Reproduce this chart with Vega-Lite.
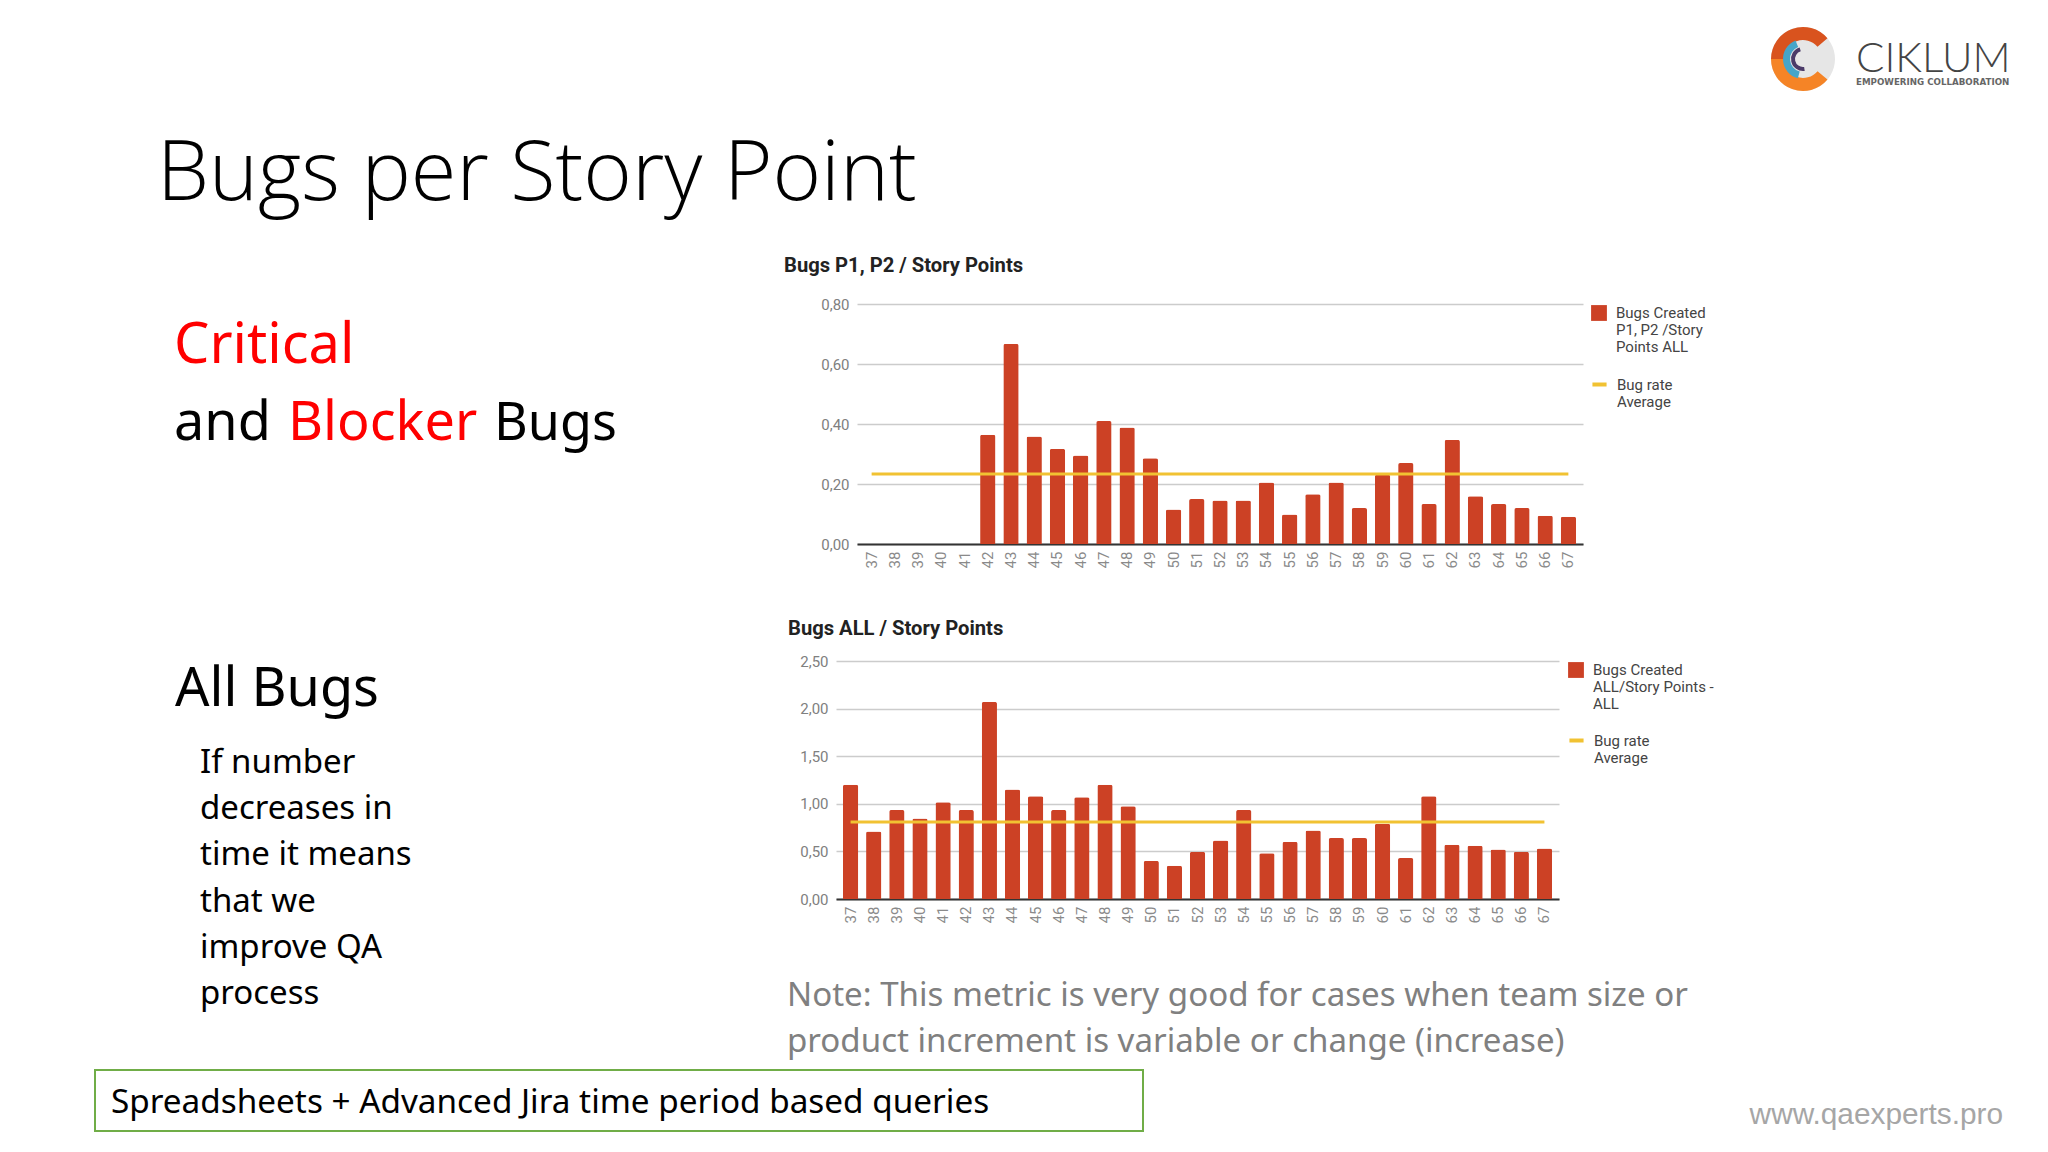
{
  "$schema": "https://vega.github.io/schema/vega-lite/v6.json",
  "padding": 0,
  "background": "#ffffff",
  "spacing": 0,
  "bounds": "flush",
  "resolve": {"scale": {"color": "independent", "stroke": "independent"}, "legend": {"color": "independent", "stroke": "independent"}},
  "config": {
    "view": {"stroke": null},
    "font": "Roboto",
    "axisX": {"title": null, "labelAngle": -90, "labelColor": "#8a8a8a", "labelFontSize": 15, "labelPadding": 7, "ticks": false, "domainColor": "#333333", "domainWidth": 2, "grid": false},
    "axisY": {"title": null, "labelColor": "#808080", "labelFontSize": 15, "labelPadding": 8, "ticks": false, "domain": false, "gridColor": "#cccccc", "gridWidth": 1.5, "labelExpr": "replace(format(datum.value, '.2f'), '.', ',')"},
    "legend": {"title": null, "labelFont": "Roboto", "labelFontSize": 15, "labelColor": "#444444", "labelOffset": 8, "labelLimit": 300, "symbolOpacity": 1}
  },
  "datasets": {
    "p1p2": [
      {"week": "37", "rate": 0, "average": 0.233},
      {"week": "38", "rate": 0, "average": 0.233},
      {"week": "39", "rate": 0, "average": 0.233},
      {"week": "40", "rate": 0, "average": 0.233},
      {"week": "41", "rate": 0, "average": 0.233},
      {"week": "42", "rate": 0.364, "average": 0.233},
      {"week": "43", "rate": 0.667, "average": 0.233},
      {"week": "44", "rate": 0.358, "average": 0.233},
      {"week": "45", "rate": 0.317, "average": 0.233},
      {"week": "46", "rate": 0.295, "average": 0.233},
      {"week": "47", "rate": 0.41, "average": 0.233},
      {"week": "48", "rate": 0.388, "average": 0.233},
      {"week": "49", "rate": 0.286, "average": 0.233},
      {"week": "50", "rate": 0.115, "average": 0.233},
      {"week": "51", "rate": 0.15, "average": 0.233},
      {"week": "52", "rate": 0.145, "average": 0.233},
      {"week": "53", "rate": 0.145, "average": 0.233},
      {"week": "54", "rate": 0.205, "average": 0.233},
      {"week": "55", "rate": 0.098, "average": 0.233},
      {"week": "56", "rate": 0.166, "average": 0.233},
      {"week": "57", "rate": 0.205, "average": 0.233},
      {"week": "58", "rate": 0.12, "average": 0.233},
      {"week": "59", "rate": 0.231, "average": 0.233},
      {"week": "60", "rate": 0.27, "average": 0.233},
      {"week": "61", "rate": 0.133, "average": 0.233},
      {"week": "62", "rate": 0.347, "average": 0.233},
      {"week": "63", "rate": 0.159, "average": 0.233},
      {"week": "64", "rate": 0.133, "average": 0.233},
      {"week": "65", "rate": 0.12, "average": 0.233},
      {"week": "66", "rate": 0.094, "average": 0.233},
      {"week": "67", "rate": 0.091, "average": 0.233}
    ],
    "all": [
      {"week": "37", "rate": 1.2, "average": 0.81},
      {"week": "38", "rate": 0.71, "average": 0.81},
      {"week": "39", "rate": 0.935, "average": 0.81},
      {"week": "40", "rate": 0.845, "average": 0.81},
      {"week": "41", "rate": 1.015, "average": 0.81},
      {"week": "42", "rate": 0.935, "average": 0.81},
      {"week": "43", "rate": 2.07, "average": 0.81},
      {"week": "44", "rate": 1.15, "average": 0.81},
      {"week": "45", "rate": 1.08, "average": 0.81},
      {"week": "46", "rate": 0.935, "average": 0.81},
      {"week": "47", "rate": 1.07, "average": 0.81},
      {"week": "48", "rate": 1.2, "average": 0.81},
      {"week": "49", "rate": 0.975, "average": 0.81},
      {"week": "50", "rate": 0.4, "average": 0.81},
      {"week": "51", "rate": 0.35, "average": 0.81},
      {"week": "52", "rate": 0.495, "average": 0.81},
      {"week": "53", "rate": 0.615, "average": 0.81},
      {"week": "54", "rate": 0.935, "average": 0.81},
      {"week": "55", "rate": 0.48, "average": 0.81},
      {"week": "56", "rate": 0.6, "average": 0.81},
      {"week": "57", "rate": 0.72, "average": 0.81},
      {"week": "58", "rate": 0.64, "average": 0.81},
      {"week": "59", "rate": 0.64, "average": 0.81},
      {"week": "60", "rate": 0.79, "average": 0.81},
      {"week": "61", "rate": 0.43, "average": 0.81},
      {"week": "62", "rate": 1.08, "average": 0.81},
      {"week": "63", "rate": 0.57, "average": 0.81},
      {"week": "64", "rate": 0.56, "average": 0.81},
      {"week": "65", "rate": 0.52, "average": 0.81},
      {"week": "66", "rate": 0.495, "average": 0.81},
      {"week": "67", "rate": 0.53, "average": 0.81}
    ]
  },
  "vconcat": [
    {
      "spacing": 0,
      "bounds": "flush",
      "hconcat": [
        {"width": 1768, "height": 1, "data": {"values": []}, "mark": "point"},
        {
          "width": 70,
          "height": 118,
          "data": {"values": [{"name": "CIKLUM", "tagline": "EMPOWERING COLLABORATION"}]},
          "layer": [
            {"mark": {"type": "arc", "outerRadius": 32, "innerRadius": 0, "theta": 0, "theta2": 6.283, "fill": "#e6e6e6"}},
            {"mark": {"type": "arc", "outerRadius": 32, "innerRadius": 19, "theta": -1.57, "theta2": 0.87, "fill": "#d9531e"}},
            {"mark": {"type": "arc", "outerRadius": 32, "innerRadius": 19, "theta": 2.27, "theta2": 4.71, "fill": "#f58426"}},
            {"mark": {"type": "arc", "outerRadius": 20, "innerRadius": 13, "theta": 3.4, "theta2": 5.9, "fill": "#46a5c9"}},
            {"mark": {"type": "arc", "outerRadius": 12, "innerRadius": 8, "theta": 3.0, "theta2": 6.0, "fill": "#4b3b68"}},
            {
              "mark": {"type": "text", "font": "Lato", "fontWeight": 300, "fontSize": 42, "align": "left", "baseline": "middle", "dx": 53, "dy": 0, "color": "#444444"},
              "encoding": {"text": {"field": "name"}}
            },
            {
              "mark": {"type": "text", "font": "DejaVu Sans", "fontWeight": 700, "fontSize": 8.7, "align": "left", "baseline": "middle", "dx": 53, "dy": 23, "color": "#666666"},
              "encoding": {"text": {"field": "tagline"}}
            }
          ]
        }
      ]
    },
    {"width": 1, "height": 135, "data": {"values": []}, "mark": "point"},
    {
      "spacing": 0,
      "bounds": "flush",
      "hconcat": [
        {"width": 155.5, "height": 1, "data": {"values": []}, "mark": "point"},
        {
          "width": 2,
          "height": 80,
          "data": {"values": [{"text": "Bugs per Story Point"}]},
          "mark": {"type": "text", "font": "Open Sans", "fontWeight": 300, "fontSize": 83, "align": "left", "baseline": "middle", "color": "#000000"},
          "encoding": {"text": {"field": "text"}}
        }
      ]
    },
    {"width": 1, "height": 168.2, "data": {"values": []}, "mark": "point"},
    {
      "spacing": 0,
      "bounds": "flush",
      "resolve": {"scale": {"color": "independent", "stroke": "independent"}, "legend": {"color": "independent", "stroke": "independent"}},
      "hconcat": [
        {"width": 857, "height": 1, "data": {"values": []}, "mark": "point"},
        {
          "width": 726,
          "height": 240,
          "title": {"text": "Bugs P1, P2 / Story Points", "anchor": "start", "frame": "group", "dx": -73, "offset": 21, "font": "Roboto", "fontSize": 20.2, "fontWeight": 700, "color": "#222222"},
          "data": {"name": "p1p2"},
          "encoding": {
            "x": {"field": "week", "type": "ordinal", "scale": {"paddingInner": 0.34, "paddingOuter": 0.3}}
          },
          "layer": [
            {
              "mark": {"type": "bar", "cornerRadiusEnd": 2},
              "encoding": {
                "y": {"field": "rate", "type": "quantitative", "scale": {"domain": [0, 0.8], "nice": false}, "axis": {"values": [0, 0.2, 0.4, 0.6, 0.8]}},
                "color": {"datum": "Bugs Created\nP1, P2 /Story\nPoints ALL", "scale": {"range": ["#cc4125"]}, "legend": {"labelExpr": "split(datum.label, '\\n')", "symbolType": "square", "symbolSize": 250, "orient": "right", "offset": 7}}
              }
            },
            {
              "mark": {"type": "line", "strokeWidth": 3},
              "encoding": {
                "y": {"field": "average", "type": "quantitative"},
                "stroke": {"datum": "Bug rate\nAverage", "scale": {"range": ["#f1c232"]}, "legend": {"labelExpr": "split(datum.label, '\\n')", "symbolSize": 200, "symbolStrokeWidth": 4, "orient": "none", "legendX": 733, "legendY": 71}}
              }
            }
          ]
        }
      ]
    },
    {"width": 1, "height": 2.8, "data": {"values": []}, "mark": "point"},
    {
      "spacing": 0,
      "bounds": "flush",
      "hconcat": [
        {"width": 172.5, "height": 1, "data": {"values": []}, "mark": "point"},
        {
          "width": 2,
          "height": 156,
          "encoding": {
            "y": {"field": "line", "type": "nominal", "axis": null, "scale": {"domain": ["first", "second"], "paddingInner": 0, "paddingOuter": 0}},
            "text": {"field": "text"}
          },
          "layer": [
            {
              "data": {"values": [{"line": "first", "text": "Critical"}]},
              "mark": {"type": "text", "font": "Noto Sans", "fontSize": 56, "align": "left", "baseline": "middle", "color": "#ff0000"}
            },
            {
              "data": {"values": [{"line": "second", "text": "and"}]},
              "mark": {"type": "text", "font": "Noto Sans", "fontSize": 54, "align": "left", "baseline": "middle", "color": "#000000"}
            },
            {
              "data": {"values": [{"line": "second", "text": "Blocker"}]},
              "mark": {"type": "text", "font": "Noto Sans", "fontSize": 54, "align": "left", "baseline": "middle", "dx": 114, "color": "#ff0000"}
            },
            {
              "data": {"values": [{"line": "second", "text": "Bugs"}]},
              "mark": {"type": "text", "font": "Noto Sans", "fontSize": 52, "align": "left", "baseline": "middle", "dx": 320, "color": "#000000"}
            }
          ]
        }
      ]
    },
    {"width": 1, "height": 331.7, "data": {"values": []}, "mark": "point"},
    {
      "spacing": 0,
      "bounds": "flush",
      "hconcat": [
        {"width": 173.7, "height": 1, "data": {"values": []}, "mark": "point"},
        {
          "width": 2,
          "height": 102,
          "data": {"values": [{"text": "All Bugs"}]},
          "mark": {"type": "text", "font": "Noto Sans", "fontSize": 54, "align": "left", "baseline": "middle", "color": "#000000"},
          "encoding": {"text": {"field": "text"}}
        }
      ]
    },
    {"width": 1, "height": 21.8, "data": {"values": []}, "mark": "point"},
    {
      "spacing": 0,
      "bounds": "flush",
      "resolve": {"scale": {"color": "independent", "stroke": "independent"}, "legend": {"color": "independent", "stroke": "independent"}},
      "hconcat": [
        {"width": 836, "height": 1, "data": {"values": []}, "mark": "point"},
        {
          "width": 723,
          "height": 238,
          "title": {"text": "Bugs ALL / Story Points", "anchor": "start", "frame": "group", "dx": -48, "offset": 15, "font": "Roboto", "fontSize": 20.2, "fontWeight": 700, "color": "#222222"},
          "data": {"name": "all"},
          "encoding": {
            "x": {"field": "week", "type": "ordinal", "scale": {"paddingInner": 0.34, "paddingOuter": 0.3}}
          },
          "layer": [
            {
              "mark": {"type": "bar", "cornerRadiusEnd": 2},
              "encoding": {
                "y": {"field": "rate", "type": "quantitative", "scale": {"domain": [0, 2.5], "nice": false}, "axis": {"values": [0, 0.5, 1, 1.5, 2, 2.5]}},
                "color": {"datum": "Bugs Created\nALL/Story Points -\nALL", "scale": {"range": ["#cc4125"]}, "legend": {"labelExpr": "split(datum.label, '\\n')", "symbolType": "square", "symbolSize": 250, "orient": "right", "offset": 8}}
              }
            },
            {
              "mark": {"type": "line", "strokeWidth": 3},
              "encoding": {
                "y": {"field": "average", "type": "quantitative"},
                "stroke": {"datum": "Bug rate\nAverage", "scale": {"range": ["#f1c232"]}, "legend": {"labelExpr": "split(datum.label, '\\n')", "symbolSize": 200, "symbolStrokeWidth": 4, "orient": "none", "legendX": 731, "legendY": 70}}
              }
            }
          ]
        }
      ]
    },
    {"width": 1, "height": 78.2, "data": {"values": []}, "mark": "point"},
    {
      "spacing": 0,
      "bounds": "flush",
      "hconcat": [
        {"width": 198.7, "height": 1, "data": {"values": []}, "mark": "point"},
        {
          "width": 2,
          "height": 277,
          "data": {"values": [{"text": "If number"}, {"text": "decreases in"}, {"text": "time it means"}, {"text": "that we"}, {"text": "improve QA"}, {"text": "process"}]},
          "mark": {"type": "text", "font": "Noto Sans", "fontSize": 33, "align": "left", "baseline": "middle", "color": "#000000"},
          "encoding": {
            "y": {"field": "text", "type": "nominal", "sort": null, "axis": null, "scale": {"paddingInner": 0, "paddingOuter": 0}},
            "text": {"field": "text"}
          }
        }
      ]
    },
    {"width": 1, "height": 232.4, "data": {"values": []}, "mark": "point"},
    {
      "spacing": 0,
      "bounds": "flush",
      "hconcat": [
        {"width": 786, "height": 1, "data": {"values": []}, "mark": "point"},
        {
          "width": 2,
          "height": 92,
          "data": {"values": [{"text": "Note: This metric is very good for cases when team size or"}, {"text": "product increment is variable or change (increase)"}]},
          "mark": {"type": "text", "font": "Noto Sans", "fontSize": 33.1, "align": "left", "baseline": "middle", "color": "#808080"},
          "encoding": {
            "y": {"field": "text", "type": "nominal", "sort": null, "axis": null, "scale": {"paddingInner": 0, "paddingOuter": 0}},
            "text": {"field": "text"}
          }
        }
      ]
    },
    {"width": 1, "height": 96.9, "data": {"values": []}, "mark": "point"},
    {
      "spacing": 0,
      "bounds": "flush",
      "hconcat": [
        {"width": 95, "height": 1, "data": {"values": []}, "mark": "point"},
        {
          "width": 1048,
          "height": 61,
          "view": {"stroke": "#70ad47", "strokeWidth": 2, "fill": "#ffffff"},
          "data": {"values": [{"text": "Spreadsheets + Advanced Jira time period based queries"}]},
          "mark": {"type": "text", "font": "Noto Sans", "fontSize": 33.3, "align": "left", "baseline": "middle", "dx": -508, "dy": 2, "color": "#000000"},
          "encoding": {"text": {"field": "text"}}
        }
      ]
    },
    {"width": 1, "height": 25.4, "data": {"values": []}, "mark": "point"},
    {
      "spacing": 0,
      "bounds": "flush",
      "hconcat": [
        {"width": 2001.5, "height": 1, "data": {"values": []}, "mark": "point"},
        {
          "width": 2,
          "height": 38,
          "data": {"values": [{"text": "www.qaexperts.pro"}]},
          "mark": {"type": "text", "font": "Liberation Sans", "fontSize": 29.8, "align": "right", "baseline": "middle", "color": "#a6a6a6"},
          "encoding": {"text": {"field": "text"}}
        }
      ]
    }
  ]
}
